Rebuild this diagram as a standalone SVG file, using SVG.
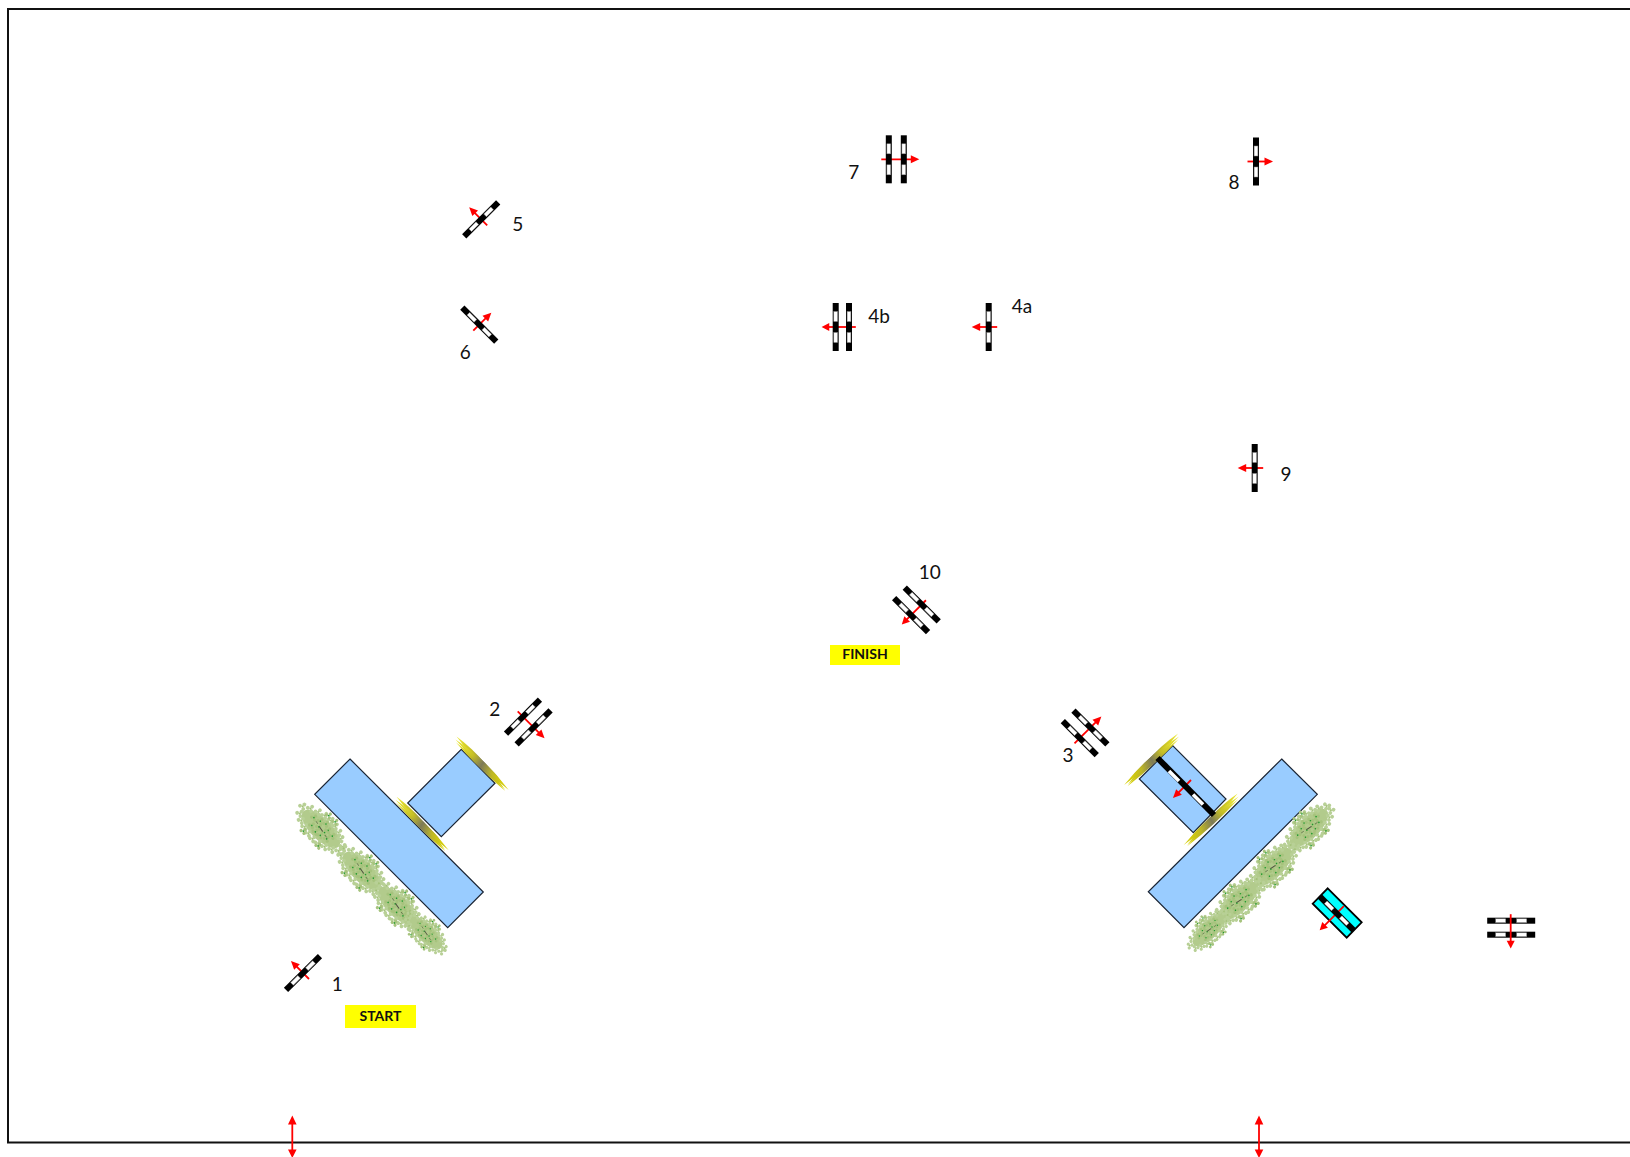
<svg xmlns="http://www.w3.org/2000/svg" width="1630" height="1157" viewBox="0 0 1630 1157">
<style>
.lb{font-family:Lato,"Liberation Sans",sans-serif;font-size:19px;fill:#111;text-anchor:middle}
.tag{font-family:Lato,"Liberation Sans",sans-serif;font-size:14px;font-weight:700;fill:#111;text-anchor:middle}
.bl{fill:#99ccff;stroke:#1a2433;stroke-width:1.2}
.ar{stroke:#ff0000;stroke-width:1.800;fill:none}
.hd{fill:#ff0000;stroke:none}
</style>
<defs>
<linearGradient id="rg" x1="0" x2="1" y1="0" y2="0">
<stop offset="0" stop-color="#eeea30"/><stop offset=".3" stop-color="#c4bd26"/><stop offset=".5" stop-color="#7d7a58"/><stop offset=".72" stop-color="#bdb626"/><stop offset="1" stop-color="#dcd600"/>
</linearGradient>
<g id="h"><rect x="-3" y="-24" width="6" height="48" fill="#000"/><rect x="-1.900" y="-15.500" width="3.800" height="10" fill="#fff" stroke="#888" stroke-width=".5"/><rect x="-1.900" y="5.500" width="3.800" height="10" fill="#fff" stroke="#888" stroke-width=".5"/></g>
<g id="hh"><use href="#h" x="-7.500"/><use href="#h" x="7.500"/></g>
<g id="a"><path class="ar" d="M-8.500,0H11"/><path class="hd" d="M17,0L8.500,-4V4Z"/></g>
<g id="aa"><path class="ar" d="M-15,0H17"/><path class="hd" d="M23,0L14.500,-4V4Z"/></g>
<g id="reed">
<path d="M-37,-6Q-6,-7 34,6Q-4,3 -37,-6Z" fill="url(#rg)"/>
<path d="M-36,-3Q0,-6 37,4Q0,4 -36,-3Z" fill="url(#rg)"/>
<path d="M-34,-1Q0,-2 35,7Q0,6 -34,-1Z" fill="url(#rg)"/>
<path d="M-30,-3Q0,-6 30,3Q0,4 -30,-3Z" fill="url(#rg)"/>
</g>
<g id="lf"><circle cx="0" cy="-2.500" r="1.900" fill="#b8d096"/><circle cx="-2.300" cy="1.400" r="1.900" fill="#b8d096"/><circle cx="2.300" cy="1.400" r="1.900" fill="#b8d096"/><circle r="1" fill="#a4c27a"/></g>
<g id="dk"><circle cx="0" cy="-2.200" r="1.600" fill="#a6c37d"/><circle cx="-2" cy="1.200" r="1.600" fill="#a6c37d"/><circle cx="2" cy="1.200" r="1.600" fill="#a6c37d"/><circle r=".8" fill="#1f9a2c"/></g>
<g id="clump">
<ellipse rx="25" ry="10.500" fill="#b2cb8c"/>
<use href="#lf" x="-29" y="-3"/><use href="#lf" x="-26" y="4"/><use href="#lf" x="-22" y="-7"/><use href="#lf" x="-20" y="8"/><use href="#lf" x="-14" y="-10"/><use href="#lf" x="-13" y="10"/><use href="#lf" x="-7" y="-12"/><use href="#lf" x="-6" y="12"/><use href="#lf" x="1" y="-13"/><use href="#lf" x="1" y="13"/><use href="#lf" x="8" y="-12"/><use href="#lf" x="8" y="12"/><use href="#lf" x="15" y="-10"/><use href="#lf" x="15" y="10"/><use href="#lf" x="21" y="-7"/><use href="#lf" x="22" y="7"/><use href="#lf" x="28" y="-3"/><use href="#lf" x="28" y="3"/>
<use href="#dk" x="-13" y="-3"/><use href="#dk" x="-9" y="4"/><use href="#dk" x="-6" y="-5"/><use href="#dk" x="-2" y="6"/><use href="#dk" x="0" y="-7"/><use href="#dk" x="4" y="5"/><use href="#dk" x="6" y="-4"/><use href="#dk" x="11" y="3"/><use href="#dk" x="13" y="-3"/><use href="#dk" x="-3" y="0"/><use href="#dk" x="5" y="0"/>
<use href="#dk" x="-4" y="-15"/><use href="#dk" x="5" y="-15"/><use href="#dk" x="10" y="14"/><use href="#dk" x="-11" y="14"/>
<path d="M-3,-.6L3,.6" stroke="#4d4d3f" stroke-width="1"/><path d="M-9,-2L-6,-1.400M7,1.500L10,2" stroke="#5b6b44" stroke-width=".8"/>
</g>
</defs>
<rect width="1630" height="1157" fill="#fff"/>
<path d="M1630,9H8V1142.500H1630" fill="none" stroke="#111" stroke-width="2"/>

<g id="terrain-left">
<polygon class="bl" points="350,759 483.300,892 447.700,927.700 314.700,794.300"/>
<polygon class="bl" points="461.300,749.300 495,783.300 441.300,836.700 407.700,803"/>
<use href="#reed" transform="translate(482 764) rotate(38)"/>
<use href="#reed" transform="translate(422 824.300) rotate(38)"/>
<use href="#clump" transform="translate(321 829) rotate(45)"/>
<use href="#clump" transform="translate(362 871) rotate(45)"/>
<use href="#clump" transform="translate(397.300 906) rotate(45)"/>
<use href="#clump" transform="translate(426 933) rotate(45) scale(.85)"/>
</g>
<g id="terrain-right">
<polygon class="bl" points="1281.700,759 1317.300,794.300 1184,927.700 1148.300,891.700"/>
<polygon class="bl" points="1172.700,745.700 1226,799 1193.300,832.700 1139.300,779"/>
<use href="#reed" transform="translate(1151.700 760) rotate(-36) scale(-1 1)"/>
<use href="#reed" transform="translate(1211.300 820) rotate(-36) scale(-1 1)"/>
<use href="#clump" transform="translate(1309 828) rotate(-45)"/>
<use href="#clump" transform="translate(1273 867) rotate(-45)"/>
<use href="#clump" transform="translate(1239 901) rotate(-45)"/>
<use href="#clump" transform="translate(1209 930) rotate(-45) scale(.85)"/>
</g>

<g id="node-1"><use href="#a" transform="translate(303 973) rotate(225)"/><use href="#h" transform="translate(303 973) rotate(45)"/><text class="lb" x="337.300" y="990.700">1</text></g>
<g id="start"><rect x="345" y="1005" width="71" height="23" fill="#ffff00"/><text class="tag" x="380.500" y="1021">START</text></g>
<g id="node-2"><use href="#aa" transform="translate(528.300 722) rotate(45)"/><use href="#hh" transform="translate(528.300 722) rotate(45)"/><text class="lb" x="494.700" y="715.700">2</text></g>
<g id="node-3"><use href="#aa" transform="translate(1085.100 732.800) rotate(-45)"/><use href="#hh" transform="translate(1085.100 732.800) rotate(-45)"/><text class="lb" x="1068" y="762">3</text></g>
<g id="node-4a"><use href="#a" transform="translate(988.700 327) rotate(180)"/><use href="#h" transform="translate(988.700 327)"/><text class="lb" x="1022" y="313">4a</text></g>
<g id="node-4b"><use href="#aa" transform="translate(842.300 327) rotate(180) scale(.9 1)"/><use href="#h" x="835.700" y="327"/><use href="#h" x="849" y="327"/><text class="lb" x="879" y="323">4b</text></g>
<g id="node-5"><use href="#a" transform="translate(481.200 219.300) rotate(225)"/><use href="#h" transform="translate(481.200 219.300) rotate(45)"/><text class="lb" x="517.700" y="231">5</text></g>
<g id="node-6"><use href="#a" transform="translate(479.300 324.700) rotate(-45)"/><use href="#h" transform="translate(479.300 324.700) rotate(-45)"/><text class="lb" x="465.300" y="359.300">6</text></g>
<g id="node-7"><use href="#aa" transform="translate(896.300 159.300)"/><use href="#hh" transform="translate(896.300 159.300)"/><text class="lb" x="853.700" y="178.500">7</text></g>
<g id="node-8"><use href="#a" transform="translate(1256 161.500)"/><use href="#h" transform="translate(1256 161.500)"/><text class="lb" x="1234" y="189">8</text></g>
<g id="node-9"><use href="#a" transform="translate(1254.700 468) rotate(180)"/><use href="#h" transform="translate(1254.700 468)"/><text class="lb" x="1286" y="481">9</text></g>
<g id="node-10"><use href="#aa" transform="translate(916.400 609.800) rotate(135) scale(.9 1)"/><use href="#hh" transform="translate(916.400 609.800) rotate(135)"/><text class="lb" x="929.700" y="579">10</text></g>
<g id="finish"><rect x="830" y="645" width="70" height="20" fill="#ffff00"/><text class="tag" x="865" y="659">FINISH</text></g>

<g id="node-blue-hurdle"><use href="#a" transform="translate(1185 786) rotate(135)"/><path d="M1157.500,758L1214,815" stroke="#000" stroke-width="6"/><path d="M1169,771L1179,781M1193,794.500L1203,804.500" stroke="#fff" stroke-width="3.600"/></g>
<g id="node-cyan"><polygon points="1327.700,888.300 1361.700,922.300 1346.700,937.700 1312.700,903.700" fill="#00ffff" stroke="#000" stroke-width="1.800"/><use href="#aa" transform="translate(1334.300 915.700) rotate(135) scale(.9 1)"/><use href="#h" transform="translate(1336.700 913.300) rotate(-45)"/></g>
<g id="node-double"><use href="#h" transform="translate(1511.200 920.700) rotate(90)"/><use href="#h" transform="translate(1511.200 934.700) rotate(90)"/><use href="#aa" transform="translate(1510.700 927.700) rotate(90) scale(.9 1)"/></g>

<g id="connectors">
<path class="ar" d="M292.300,1120V1152"/><path class="hd" d="M292.300,1115.500L288,1124.500H296.600ZM292.300,1158L288,1149.500H296.600Z"/>
<path class="ar" d="M1259,1120V1152"/><path class="hd" d="M1259,1115.500L1254.700,1124.500H1263.300ZM1259,1158L1254.700,1149.500H1263.300Z"/>
</g>
</svg>
